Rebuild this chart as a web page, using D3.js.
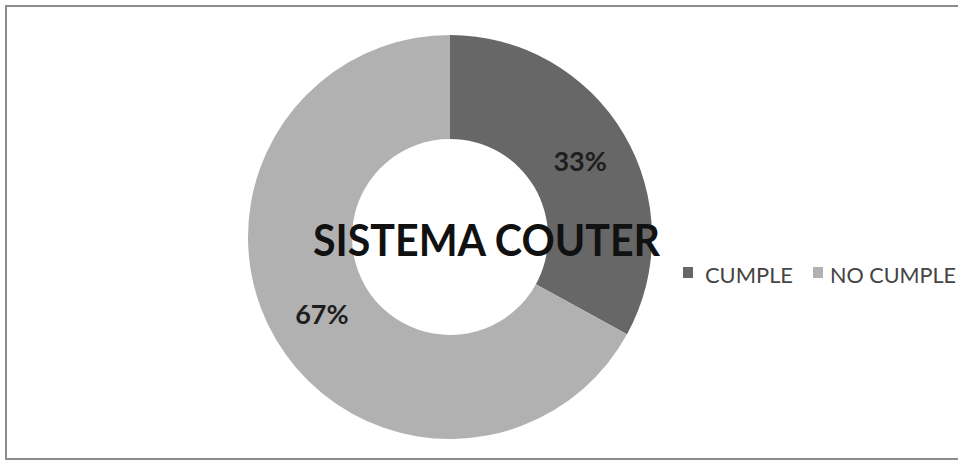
<!DOCTYPE html>
<html>
<head>
<meta charset="utf-8">
<script src="https://cdn.jsdelivr.net/npm/d3@7"></script>
<style>
  html, body { margin: 0; padding: 0; background: #fff; overflow: hidden; }
  svg { display: block; }
</style>
</head>
<body>
<svg id="chart" width="958" height="463"></svg>
<script>
// Données du graphique
const categories = ["CUMPLE", "NO CUMPLE"];
const values = [33, 67];
const colors = ["#676767", "#b1b1b1"];
const title = "SISTEMA COUTER";

const width = 958, height = 463;
const cx = 450, cy = 237;
const outerR = 202, innerR = 98;

const svg = d3.select("#chart");

// Cadre du graphique (coupé à droite)
svg.append("rect")
  .attr("x", 6).attr("y", 6)
  .attr("width", 1000).attr("height", 453)
  .attr("fill", "#fff")
  .attr("stroke", "#8c8c8c")
  .attr("stroke-width", 2);

const pie = d3.pie().sort(null).value(d => d);
const arc = d3.arc().innerRadius(innerR).outerRadius(outerR);

const g = svg.append("g").attr("transform", `translate(${cx},${cy})`);
const arcs = pie(values);

g.selectAll("path")
  .data(arcs)
  .enter()
  .append("path")
  .attr("d", arc)
  .attr("fill", (d, i) => colors[i]);

// Étiquettes de pourcentage
g.selectAll("text.pct")
  .data(arcs)
  .enter()
  .append("text")
  .attr("class", "pct")
  .attr("x", d => arc.centroid(d)[0] + 1)
  .attr("y", d => arc.centroid(d)[1] + 1)
  .attr("dy", "0.36em")
  .attr("text-anchor", "middle")
  .style("font-family", "Lato, 'Open Sans', sans-serif")
  .style("font-weight", "bold")
  .style("font-size", "27px")
  .style("fill", "#1e1e1e")
  .text(d => Math.round(d.data) + "%");

// Titre
svg.append("text")
  .attr("x", 313)
  .attr("y", 256)
  .attr("textLength", 347)
  .attr("lengthAdjust", "spacingAndGlyphs")
  .style("font-family", "Lato, 'Open Sans', sans-serif")
  .style("font-weight", "bold")
  .style("font-size", "43px")
  .style("fill", "#111")
  .text(title);

// Légende
const legendX = [683, 813];
const textX = [705, 830];
const legendLen = [88, 126];
const legend = svg.append("g");
categories.forEach((c, i) => {
  legend.append("rect")
    .attr("x", legendX[i]).attr("y", 267)
    .attr("width", 10).attr("height", 11)
    .attr("fill", colors[i]);
  legend.append("text")
    .attr("x", textX[i])
    .attr("y", 283)
    .attr("textLength", legendLen[i])
    .attr("lengthAdjust", "spacingAndGlyphs")
    .style("font-family", "Lato, 'Open Sans', sans-serif")
    .style("font-size", "22px")
    .style("fill", "#444")
    .text(c);
});
</script>
</body>
</html>
